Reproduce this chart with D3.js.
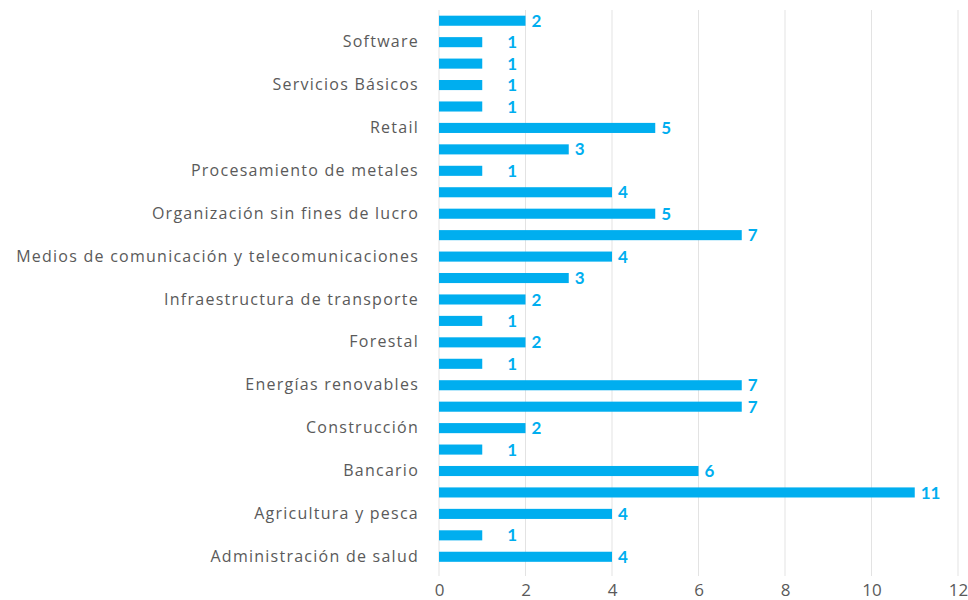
<!DOCTYPE html>
<html>
<head>
<meta charset="utf-8">
<script src="https://cdn.jsdelivr.net/npm/d3@7"></script>
<style>
  body { margin: 0; background: #fff; }
  text { font-family: Lato, "Open Sans", sans-serif; }
</style>
</head>
<body>
<svg id="chart"></svg>
<script>
// categories, bottom to top (only every other one gets a label on the axis)
var categories = [
  "Administración de salud", "Agencias de viaje", "Agricultura y pesca", "Alimentos y bebidas",
  "Bancario", "Bienes raíces", "Construcción", "Educación", "Energías renovables",
  "Financiero", "Forestal", "Hotelería y turismo", "Infraestructura de transporte",
  "Manufactura", "Medios de comunicación y telecomunicaciones", "Minería",
  "Organización sin fines de lucro", "Petróleo y gas", "Procesamiento de metales",
  "Química", "Retail", "Seguros", "Servicios Básicos", "Servicios profesionales",
  "Software", "Transporte y logística"
];
var values = [4, 1, 4, 11, 6, 1, 2, 7, 7, 1, 2, 1, 2, 3, 4, 7, 5, 4, 1, 3, 5, 1, 1, 1, 1, 2];
var xTicks = [0, 2, 4, 6, 8, 10, 12];

var width = 968, height = 600;
var margin = {top: 9, right: 10, bottom: 33, left: 439};
var blue = "#00AEEF";
var grey = "#5a5a5a";
var labelFont = "'Open Sans', Lato, sans-serif";

var svg = d3.select("#chart")
  .attr("width", width)
  .attr("height", height);

var x = d3.scaleLinear().domain([0, 12]).range([margin.left, 958]);
var y = d3.scaleBand()
  .domain(categories.slice().reverse())
  .range([margin.top + 1, height - margin.bottom + 0.5])
  .paddingInner(0.53)
  .paddingOuter(0.265);

// vertical grid lines
svg.append("g")
  .selectAll("line")
  .data(xTicks)
  .enter()
  .append("line")
  .attr("x1", d => x(d)).attr("x2", d => x(d))
  .attr("y1", 10).attr("y2", 576)
  .attr("stroke", "#e3e3e3")
  .attr("stroke-width", 1);

// x axis labels
var xAxis = svg.append("g")
  .attr("transform", "translate(0," + 576 + ")")
  .call(d3.axisBottom(x).tickValues(xTicks).tickSize(0).tickPadding(8));
xAxis.select(".domain").remove();
xAxis.selectAll("text")
  .attr("fill", grey)
  .style("font-size", "17px")
  .style("font-family", labelFont);

// y axis labels, every other category
var yAxis = svg.append("g")
  .attr("transform", "translate(" + (margin.left - 20) + ",0)")
  .call(d3.axisLeft(y).tickSize(0).tickPadding(0)
    .tickFormat(d => categories.indexOf(d) % 2 === 0 ? d : ""));
yAxis.select(".domain").remove();
yAxis.selectAll("text")
  .attr("fill", grey)
  .style("font-size", "16px")
  .style("letter-spacing", "1.25px")
  .style("font-family", labelFont);

// bars
svg.append("g")
  .selectAll("rect")
  .data(values)
  .enter()
  .append("rect")
  .attr("x", x(0))
  .attr("y", (d, i) => y(categories[i]))
  .attr("width", d => x(d) - x(0))
  .attr("height", y.bandwidth())
  .attr("fill", blue);

// value labels
svg.append("g")
  .selectAll("text")
  .data(values)
  .enter()
  .append("text")
  .attr("x", d => Math.max(x(d) + 6, x(1) + 25))
  .attr("y", (d, i) => y(categories[i]) + y.bandwidth() / 2)
  .attr("dy", "0.36em")
  .attr("fill", blue)
  .style("font-size", "17px")
  .style("font-weight", "bold")
  .text(d => d);
</script>
</body>
</html>
